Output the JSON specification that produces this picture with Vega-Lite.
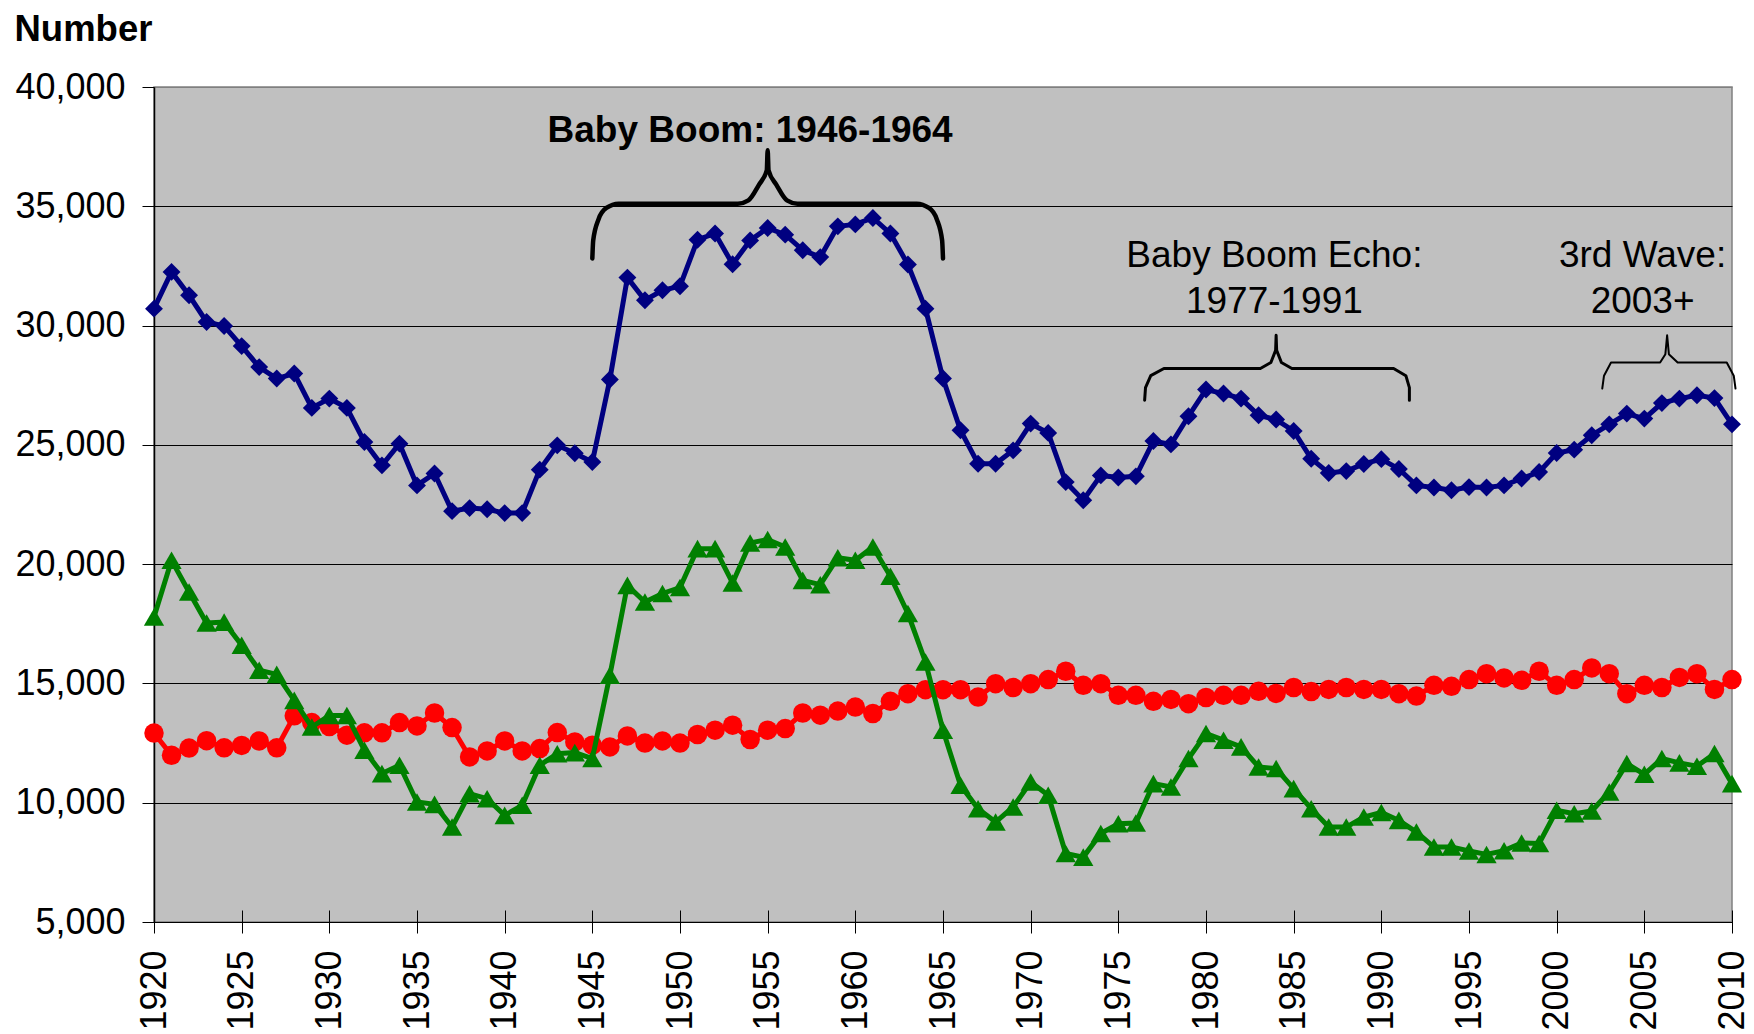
{
  "$schema": "https://vega.github.io/schema/vega-lite/v6.json",
  "autosize": {"type": "none"},
  "width": 1578,
  "height": 835,
  "padding": {"left": 154, "top": 87, "right": 22, "bottom": 112},
  "background": "white",
  "config": {
    "font": "Liberation Sans",
    "view": {"fill": "#C0C0C0", "stroke": "#808080", "strokeWidth": 1.5}
  },
  "datasets": {
    "blue": [
      {"year":1920,"value":30710},{"year":1921,"value":32250},{"year":1922,"value":31270},{"year":1923,"value":30150},{"year":1924,"value":29980},
      {"year":1925,"value":29140},{"year":1926,"value":28260},{"year":1927,"value":27780},{"year":1928,"value":27990},{"year":1929,"value":26550},
      {"year":1930,"value":26940},{"year":1931,"value":26550},{"year":1932,"value":25120},{"year":1933,"value":24140},{"year":1934,"value":25050},
      {"year":1935,"value":23300},{"year":1936,"value":23800},{"year":1937,"value":22220},{"year":1938,"value":22350},{"year":1939,"value":22300},
      {"year":1940,"value":22140},{"year":1941,"value":22140},{"year":1942,"value":23960},{"year":1943,"value":24980},{"year":1944,"value":24650},
      {"year":1945,"value":24280},{"year":1946,"value":27740},{"year":1947,"value":32010},{"year":1948,"value":31060},{"year":1949,"value":31480},
      {"year":1950,"value":31650},{"year":1951,"value":33600},{"year":1952,"value":33860},{"year":1953,"value":32570},{"year":1954,"value":33570},
      {"year":1955,"value":34090},{"year":1956,"value":33810},{"year":1957,"value":33160},{"year":1958,"value":32870},{"year":1959,"value":34160},
      {"year":1960,"value":34240},{"year":1961,"value":34510},{"year":1962,"value":33860},{"year":1963,"value":32560},{"year":1964,"value":30710},
      {"year":1965,"value":27780},{"year":1966,"value":25610},{"year":1967,"value":24210},{"year":1968,"value":24210},{"year":1969,"value":24770},
      {"year":1970,"value":25890},{"year":1971,"value":25500},{"year":1972,"value":23440},{"year":1973,"value":22680},{"year":1974,"value":23720},
      {"year":1975,"value":23630},{"year":1976,"value":23680},{"year":1977,"value":25160},{"year":1978,"value":25020},{"year":1979,"value":26200},
      {"year":1980,"value":27320},{"year":1981,"value":27150},{"year":1982,"value":26940},{"year":1983,"value":26240},{"year":1984,"value":26060},
      {"year":1985,"value":25580},{"year":1986,"value":24420},{"year":1987,"value":23820},{"year":1988,"value":23900},{"year":1989,"value":24200},
      {"year":1990,"value":24400},{"year":1991,"value":23990},{"year":1992,"value":23300},{"year":1993,"value":23210},{"year":1994,"value":23100},
      {"year":1995,"value":23230},{"year":1996,"value":23210},{"year":1997,"value":23300},{"year":1998,"value":23590},{"year":1999,"value":23860},
      {"year":2000,"value":24660},{"year":2001,"value":24800},{"year":2002,"value":25400},{"year":2003,"value":25860},{"year":2004,"value":26310},
      {"year":2005,"value":26100},{"year":2006,"value":26750},{"year":2007,"value":26940},{"year":2008,"value":27080},{"year":2009,"value":26960},
      {"year":2010,"value":25860}
    ],
    "green": [
      {"year":1920,"value":17780},{"year":1921,"value":20160},{"year":1922,"value":18830},{"year":1923,"value":17530},{"year":1924,"value":17570},
      {"year":1925,"value":16600},{"year":1926,"value":15550},{"year":1927,"value":15380},{"year":1928,"value":14290},{"year":1929,"value":13170},
      {"year":1930,"value":13660},{"year":1931,"value":13660},{"year":1932,"value":12200},{"year":1933,"value":11220},{"year":1934,"value":11570},
      {"year":1935,"value":10030},{"year":1936,"value":9930},{"year":1937,"value":8980},{"year":1938,"value":10380},{"year":1939,"value":10170},
      {"year":1940,"value":9470},{"year":1941,"value":9890},{"year":1942,"value":11570},{"year":1943,"value":12050},{"year":1944,"value":12100},
      {"year":1945,"value":11850},{"year":1946,"value":15340},{"year":1947,"value":19110},{"year":1948,"value":18410},{"year":1949,"value":18770},
      {"year":1950,"value":19020},{"year":1951,"value":20650},{"year":1952,"value":20650},{"year":1953,"value":19210},{"year":1954,"value":20890},
      {"year":1955,"value":21030},{"year":1956,"value":20720},{"year":1957,"value":19320},{"year":1958,"value":19140},{"year":1959,"value":20270},
      {"year":1960,"value":20160},{"year":1961,"value":20720},{"year":1962,"value":19490},{"year":1963,"value":17930},{"year":1964,"value":15900},
      {"year":1965,"value":13040},{"year":1966,"value":10730},{"year":1967,"value":9750},{"year":1968,"value":9190},{"year":1969,"value":9820},
      {"year":1970,"value":10870},{"year":1971,"value":10310},{"year":1972,"value":7870},{"year":1973,"value":7720},{"year":1974,"value":8710},
      {"year":1975,"value":9120},{"year":1976,"value":9150},{"year":1977,"value":10800},{"year":1978,"value":10660},{"year":1979,"value":11850},
      {"year":1980,"value":12900},{"year":1981,"value":12620},{"year":1982,"value":12340},{"year":1983,"value":11500},{"year":1984,"value":11430},
      {"year":1985,"value":10590},{"year":1986,"value":9750},{"year":1987,"value":8980},{"year":1988,"value":8980},{"year":1989,"value":9400},
      {"year":1990,"value":9590},{"year":1991,"value":9260},{"year":1992,"value":8770},{"year":1993,"value":8140},{"year":1994,"value":8140},
      {"year":1995,"value":7980},{"year":1996,"value":7830},{"year":1997,"value":7990},{"year":1998,"value":8310},{"year":1999,"value":8290},
      {"year":2000,"value":9680},{"year":2001,"value":9540},{"year":2002,"value":9650},{"year":2003,"value":10450},{"year":2004,"value":11640},
      {"year":2005,"value":11190},{"year":2006,"value":11850},{"year":2007,"value":11670},{"year":2008,"value":11530},{"year":2009,"value":12060},
      {"year":2010,"value":10800}
    ],
    "red": [
      {"year":1920,"value":12920},{"year":1921,"value":11990},{"year":1922,"value":12290},{"year":1923,"value":12600},{"year":1924,"value":12300},
      {"year":1925,"value":12400},{"year":1926,"value":12590},{"year":1927,"value":12300},{"year":1928,"value":13640},{"year":1929,"value":13360},
      {"year":1930,"value":13190},{"year":1931,"value":12830},{"year":1932,"value":12930},{"year":1933,"value":12930},{"year":1934,"value":13360},
      {"year":1935,"value":13220},{"year":1936,"value":13760},{"year":1937,"value":13150},{"year":1938,"value":11920},{"year":1939,"value":12170},
      {"year":1940,"value":12590},{"year":1941,"value":12170},{"year":1942,"value":12270},{"year":1943,"value":12940},{"year":1944,"value":12550},
      {"year":1945,"value":12410},{"year":1946,"value":12340},{"year":1947,"value":12800},{"year":1948,"value":12500},{"year":1949,"value":12590},
      {"year":1950,"value":12500},{"year":1951,"value":12860},{"year":1952,"value":13040},{"year":1953,"value":13250},{"year":1954,"value":12650},
      {"year":1955,"value":13040},{"year":1956,"value":13110},{"year":1957,"value":13760},{"year":1958,"value":13670},{"year":1959,"value":13840},
      {"year":1960,"value":14010},{"year":1961,"value":13740},{"year":1962,"value":14250},{"year":1963,"value":14570},{"year":1964,"value":14740},
      {"year":1965,"value":14740},{"year":1966,"value":14740},{"year":1967,"value":14430},{"year":1968,"value":14990},{"year":1969,"value":14830},
      {"year":1970,"value":14990},{"year":1971,"value":15160},{"year":1972,"value":15510},{"year":1973,"value":14920},{"year":1974,"value":14990},
      {"year":1975,"value":14500},{"year":1976,"value":14500},{"year":1977,"value":14250},{"year":1978,"value":14330},{"year":1979,"value":14150},
      {"year":1980,"value":14410},{"year":1981,"value":14500},{"year":1982,"value":14500},{"year":1983,"value":14670},{"year":1984,"value":14580},
      {"year":1985,"value":14830},{"year":1986,"value":14660},{"year":1987,"value":14750},{"year":1988,"value":14830},{"year":1989,"value":14750},
      {"year":1990,"value":14750},{"year":1991,"value":14570},{"year":1992,"value":14470},{"year":1993,"value":14920},{"year":1994,"value":14880},
      {"year":1995,"value":15160},{"year":1996,"value":15410},{"year":1997,"value":15230},{"year":1998,"value":15130},{"year":1999,"value":15510},
      {"year":2000,"value":14920},{"year":2001,"value":15160},{"year":2002,"value":15650},{"year":2003,"value":15410},{"year":2004,"value":14570},
      {"year":2005,"value":14920},{"year":2006,"value":14830},{"year":2007,"value":15250},{"year":2008,"value":15410},{"year":2009,"value":14750},
      {"year":2010,"value":15160}
    ],
    "brace1": [
      {"i":1,"year":1945.0,"value":32810},{"i":2,"year":1945.05,"value":33570},{"i":3,"year":1945.35,"value":34450},{"i":4,"year":1945.8,"value":34930},
      {"i":5,"year":1946.5,"value":35110},{"i":6,"year":1953.3,"value":35110},{"i":7,"year":1953.9,"value":35250},{"i":8,"year":1954.5,"value":35900},
      {"i":9,"year":1954.95,"value":36510},{"i":10,"year":1955.0,"value":37350},{"i":11,"year":1955.05,"value":36510},{"i":12,"year":1955.5,"value":35900},
      {"i":13,"year":1956.1,"value":35250},{"i":14,"year":1956.7,"value":35110},{"i":15,"year":1963.5,"value":35110},{"i":16,"year":1964.2,"value":34930},
      {"i":17,"year":1964.65,"value":34450},{"i":18,"year":1964.95,"value":33570},{"i":19,"year":1965.0,"value":32810}
    ],
    "brace2": [
      {"i":1,"year":1976.5,"value":26870},{"i":2,"year":1976.55,"value":27400},{"i":3,"year":1976.85,"value":27900},{"i":4,"year":1977.6,"value":28200},
      {"i":5,"year":1983.1,"value":28200},{"i":6,"year":1983.7,"value":28450},{"i":7,"year":1983.97,"value":28960},{"i":8,"year":1984.0,"value":29590},
      {"i":9,"year":1984.03,"value":28960},{"i":10,"year":1984.3,"value":28450},{"i":11,"year":1984.9,"value":28200},{"i":12,"year":1990.7,"value":28200},
      {"i":13,"year":1991.4,"value":27900},{"i":14,"year":1991.6,"value":27400},{"i":15,"year":1991.6,"value":26870}
    ],
    "brace3": [
      {"i":1,"year":2002.6,"value":27360},{"i":2,"year":2002.7,"value":27900},{"i":3,"year":2003.1,"value":28450},{"i":4,"year":2005.9,"value":28450},
      {"i":5,"year":2006.2,"value":28800},{"i":6,"year":2006.3,"value":29590},{"i":7,"year":2006.4,"value":28800},{"i":8,"year":2006.9,"value":28450},
      {"i":9,"year":2009.7,"value":28450},{"i":10,"year":2010.1,"value":27900},{"i":11,"year":2010.2,"value":27360}
    ],
    "boldText": [
      {"year":1954.0,"value":37690,"text":"Baby Boom: 1946-1964"}
    ],
    "plainText": [
      {"year":1983.9,"value":32455,"text":"Baby Boom Echo:"},
      {"year":1983.9,"value":30530,"text":"1977-1991"},
      {"year":2004.9,"value":32455,"text":"3rd Wave:"},
      {"year":2004.9,"value":30530,"text":"2003+"}
    ]
  },
  "encoding": {
    "x": {
      "field": "year", "type": "quantitative",
      "scale": {"domain": [1920, 2010], "nice": false, "zero": false},
      "axis": {
        "title": null,
        "values": [1920,1925,1930,1935,1940,1945,1950,1955,1960,1965,1970,1975,1980,1985,1990,1995,2000,2005,2010],
        "format": "d", "labelAngle": -90, "labelFontSize": 36, "labelColor": "#000",
        "labelPadding": 17, "tickSize": 23, "tickColor": "#000", "tickWidth": 1,
        "domain": false, "grid": false, "offset": -12, "labelFlush": false, "labelOverlap": false
      }
    },
    "y": {
      "field": "value", "type": "quantitative",
      "scale": {"domain": [5000, 40000], "nice": false, "zero": false},
      "axis": {
        "title": "Number",
        "values": [5000,10000,15000,20000,25000,30000,35000,40000],
        "format": ",d", "labelFontSize": 36, "labelColor": "#000", "labelPadding": 17,
        "tickSize": 12, "tickColor": "#000", "domainColor": "#000", "domainWidth": 1.5,
        "grid": true, "gridColor": {"condition": {"test": "datum.value === 40000", "value": "#808080"}, "value": "#000"}, "gridWidth": 1,
        "titleAngle": 0, "titleAlign": "left", "titleBaseline": "alphabetic",
        "titleX": -140, "titleY": -47, "titleFontSize": 36.5, "titleFontWeight": "bold", "titleColor": "#000",
        "labelFlush": false, "labelOverlap": false
      }
    }
  },
  "layer": [
    {"data": {"name": "red"}, "mark": {"type": "line", "color": "#FF0000", "strokeWidth": 5}, "encoding": {}},
    {"data": {"name": "red"}, "mark": {"type": "point", "shape": "circle", "filled": true, "size": 380, "color": "#FF0000", "opacity": 1}},
    {"data": {"name": "green"}, "mark": {"type": "line", "color": "#008000", "strokeWidth": 5}, "encoding": {}},
    {"data": {"name": "green"}, "mark": {"type": "point", "shape": "triangle-up", "filled": true, "size": 410, "color": "#008000", "opacity": 1}},
    {"data": {"name": "blue"}, "mark": {"type": "line", "color": "#000080", "strokeWidth": 5}, "encoding": {}},
    {"data": {"name": "blue"}, "mark": {"type": "point", "shape": "diamond", "filled": true, "size": 320, "color": "#000080", "opacity": 1}},
    {"data": {"name": "brace1"}, "mark": {"type": "line", "color": "#000", "strokeWidth": 4.5, "strokeCap": "round", "strokeJoin": "round", "interpolate": "monotone"}, "encoding": {"order": {"field": "i", "type": "quantitative"}}},
    {"data": {"name": "brace2"}, "mark": {"type": "line", "color": "#000", "strokeWidth": 3, "strokeCap": "round", "strokeJoin": "round"}, "encoding": {"order": {"field": "i", "type": "quantitative"}}},
    {"data": {"name": "brace3"}, "mark": {"type": "line", "color": "#000", "strokeWidth": 2, "strokeCap": "round", "strokeJoin": "round"}, "encoding": {"order": {"field": "i", "type": "quantitative"}}},
    {"data": {"name": "boldText"}, "mark": {"type": "text", "fontSize": 37, "fontWeight": "bold", "align": "center", "baseline": "alphabetic", "color": "#000"}, "encoding": {"text": {"field": "text"}}},
    {"data": {"name": "plainText"}, "mark": {"type": "text", "fontSize": 37, "align": "center", "baseline": "alphabetic", "color": "#000"}, "encoding": {"text": {"field": "text"}}}
  ]
}
